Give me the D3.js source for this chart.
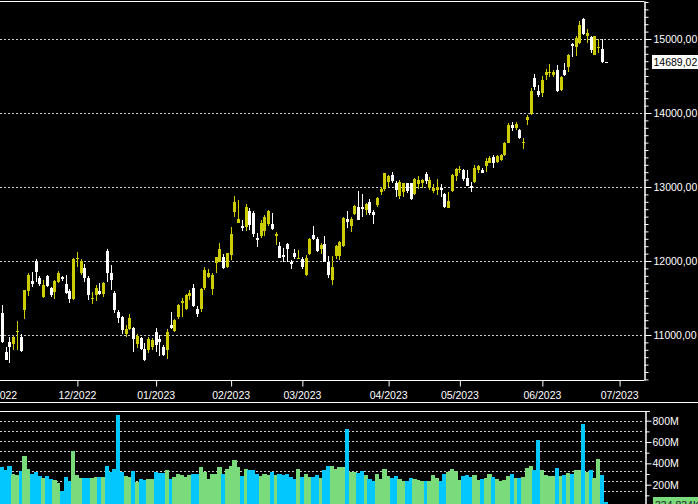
<!DOCTYPE html>
<html><head><meta charset="utf-8">
<script src="https://cdn.jsdelivr.net/npm/d3@7"></script>
<style>html,body{margin:0;padding:0;background:#000;overflow:hidden}</style>
</head><body>
<svg id="c" width="698" height="504"></svg>
<script>
const openP = [
11293,10775,10910,10887,11036,10977,11338,11599,11734,12000,
11775,11518,11797,11630,11586,11721,11779,11689,11599,11486,
12027,11833,11910,11775,11486,11531,11595,11554,12135,11833,
11572,11315,11248,11013,11090,11099,10887,10955,10811,10788,
10833,11045,10946,10842,10797,11135,11058,11248,11437,11351,
11518,11639,11351,11347,11639,11788,11621,11968,11991,12058,
11910,12081,12653,12518,12477,12464,12676,12644,12315,12338,
12405,12509,12500,12338,12203,12081,12230,11991,12104,12027,
12027,11811,12094,12351,12297,12162,12230,11991,11743,12067,
12067,12203,12563,12473,12635,12734,12725,12689,12802,12667,
12757,12923,12968,13072,13162,13058,12878,12923,13049,13049,
12905,13036,13049,13176,12991,12946,12968,12991,12901,12721,
12950,13140,13221,13230,13117,13013,13058,13230,13230,13288,
13329,13401,13333,13365,13432,13599,13838,13800,13770,13595,
13914,13982,14468,14302,14266,14514,14545,14523,14581,14311,
14581,14617,14928,14887,14941,15270,15032,15032,14784,14880,
14865,14689.02];
const highP = [
11405,10842,10977,10986,11189,11009,11608,11842,11856,12027,
11797,11743,11811,11653,11743,11865,11797,11811,11626,12036,
12117,12022,11955,11797,11576,11676,11707,11721,12162,11946,
11595,11338,11261,11135,11284,11112,11013,10968,10887,10977,
10955,11090,11000,10865,11081,11306,11212,11419,11495,11554,
11608,11689,11392,11630,11914,11887,11833,12058,12239,12094,
12112,12455,12878,12824,12554,12770,12721,12676,12374,12554,
12622,12689,12653,12396,12261,12171,12240,12013,12158,12149,
12058,12081,12306,12473,12329,12239,12338,12067,12067,12216,
12275,12590,12676,12590,12757,12946,12905,12779,12838,12689,
12869,12995,13194,13162,13207,13081,13094,13058,13055,13058,
13117,13149,13108,13207,13131,13040,13103,13036,12923,12937,
13176,13252,13284,13239,13230,13072,13297,13297,13252,13387,
13423,13432,13430,13440,13613,13860,13874,13880,13780,13667,
13972,14333,14527,14378,14500,14590,14662,14580,14649,14500,
14680,14797,14941,15040,15243,15279,15135,15041,15041,14996,
14996,14689.02];
const lowP = [
10887,10662,10626,10797,10797,10766,11216,11527,11653,11721,
11662,11504,11653,11518,11486,11707,11734,11550,11437,11473,
11923,11811,11721,11473,11419,11459,11540,11518,11721,11608,
11293,11167,11013,10968,11067,10775,10820,10797,10650,10761,
10797,10775,10721,10716,10676,11076,11040,11212,11239,11338,
11473,11380,11248,11315,11608,11775,11540,11833,11982,11892,
11901,12013,12599,12509,12410,12405,12419,12320,12194,12306,
12338,12473,12420,12216,12035,11991,11991,11892,12022,12022,
11892,11800,12081,12284,12126,12094,11985,11766,11676,12022,
12013,12185,12441,12396,12622,12550,12590,12622,12622,12500,
12734,12892,12950,13004,13049,12869,12838,12860,12923,12824,
12892,12968,12982,13036,12959,12914,12892,12869,12715,12715,
12937,13085,13185,13081,13008,12937,13049,13194,13185,13207,
13320,13252,13320,13350,13420,13590,13761,13770,13650,13514,
13838,13973,14311,14212,14212,14446,14491,14480,14279,14300,
14505,14559,14761,14770,14928,15054,14941,14815,14784,14815,
14680,14689.02];
const closeP = [
10896,10671,10842,10977,11054,10784,11608,11811,11689,11856,
11689,11676,11662,11540,11730,11842,11752,11572,11486,12027,
12045,12000,11775,11540,11504,11630,11550,11707,11833,11734,
11338,11234,11067,11076,11234,10946,10991,10811,10662,10941,
10932,10865,10910,10730,11040,11099,11203,11405,11464,11540,
11563,11392,11284,11617,11878,11842,11811,12049,12162,11910,
12103,12365,12793,12567,12455,12734,12486,12365,12293,12509,
12599,12680,12432,12365,12045,12058,12162,11968,12045,12040,
11923,12045,12297,12293,12140,12216,11991,11811,11923,12203,
12261,12577,12518,12563,12743,12554,12703,12766,12653,12622,
12856,12968,13190,13149,13081,12959,13072,13049,12946,12838,
13103,13094,13094,13081,13094,12991,13004,12968,12721,12811,
13162,13239,13239,13103,13013,12982,13252,13290,13194,13351,
13396,13320,13419,13432,13590,13838,13800,13850,13667,13605,
13950,14297,14342,14252,14446,14559,14555,14559,14302,14491,
14514,14784,14905,15009,15189,15068,15077,14851,15041,14895,
14689.02,14689.02];
const volumeM = [
366,334,372,297,293,325,466,344,303,319,
281,262,281,249,246,215,136,271,234,513,
287,262,262,262,262,268,268,268,372,319,
344,852,319,281,271,325,224,249,240,249,
249,319,309,312,334,249,271,303,287,271,
287,297,297,362,319,249,297,303,362,303,
344,372,428,365,281,344,334,334,297,281,
297,287,319,287,303,287,303,271,249,344,
271,303,271,271,287,262,334,372,372,344,
365,365,720,318,318,309,325,287,249,231,
296,249,344,281,262,278,256,231,231,265,
256,240,231,231,231,287,265,231,296,318,
344,328,240,281,287,271,287,240,256,262,
303,268,249,231,243,278,303,265,265,271,
359,372,334,617,334,287,281,281,356,281,
287,309,296,334,340,767,318,334,265,438,
287,42];
const monthLabels = ["11/2022","12/2022","01/2023","02/2023","03/2023","04/2023","05/2023","06/2023","07/2023"];
const monthStartIndex = [-1,20,41,61,80,103,122,144,164.6];
const priceTicks = [11000,12000,13000,14000,15000];
const volumeTicks = [200,400,600,800];
const volumeGrid = [100,200,300,400,500,600,700,800];
const lastPrice = 14689.02;
const lastVolumeLabel = "334,834K";

const UP = "#cccc00", DOWN = "#ffffff", VUP = "#79db79", VDOWN = "#00c8ff";
const FONT = "'Liberation Sans', Arial, sans-serif";
const svg = d3.select("#c");
svg.append("rect").attr("width",698).attr("height",504).attr("fill","#000");

const n = closeP.length;
const x = d3.scaleLinear().domain([0,160]).range([1.86,601.86]);
const step = x(1)-x(0);
const yBase = d3.scaleLinear().domain([11000,15000]).range([335,39]);
const yP = yBase.copy().domain([yBase.invert(380), yBase.invert(1)]).range([380,1]);
const vBase = d3.scaleLinear().domain([0,800]).range([506,420.7]);
const yV = vBase.copy().domain([vBase.invert(504), vBase.invert(411)]).range([504,411]);
const yG = d3.scaleLinear().domain([0,800]).range([501.5,420.7]);

// price grid
svg.append("g").attr("shape-rendering","crispEdges").selectAll("line").data(priceTicks).join("line")
  .attr("x1",0).attr("x2",643).attr("y1",d=>Math.round(yP(d))+0.5).attr("y2",d=>Math.round(yP(d))+0.5)
  .attr("stroke","#d0d0d0").attr("stroke-dasharray","2,2");

// candles
const cg = svg.append("g").attr("shape-rendering","crispEdges");
const idx = d3.range(n);
cg.selectAll("line").data(idx).join("line")
  .attr("x1",i=>Math.round(x(i))+0.5).attr("x2",i=>Math.round(x(i))+0.5)
  .attr("y1",i=>yP(highP[i])).attr("y2",i=>yP(lowP[i]))
  .attr("stroke",i=>closeP[i]>openP[i]?UP:DOWN).attr("stroke-width",1);
cg.selectAll("rect").data(idx).join("rect")
  .attr("x",i=>Math.round(x(i))-1).attr("width",3)
  .attr("y",i=>Math.round(yP(Math.max(openP[i],closeP[i]))))
  .attr("height",i=>Math.max(1,Math.round(Math.abs(yP(openP[i])-yP(closeP[i])))))
  .attr("fill",i=>closeP[i]>openP[i]?UP:DOWN);

// frame lines
const lines = [[0,1.5,644,1.5],[0,380.5,644,380.5],[0,402.5,698,402.5],[0,411.5,650,411.5]];
svg.append("g").selectAll("line").data(lines).join("line")
  .attr("x1",d=>d[0]).attr("y1",d=>d[1]).attr("x2",d=>d[2]).attr("y2",d=>d[3])
  .attr("stroke","#fff").attr("stroke-width",1);

function styleAxis(g){
  g.selectAll("path").attr("stroke","#fff");
  g.selectAll("line").attr("stroke","#fff");
  g.selectAll("text").attr("fill","#fff").style("font-family",FONT).style("font-size","10.5px");
}
// price axis
const fmtP = d => d3.format(".2f")(d).replace(".",",");
const minorP = d3.range(10400,15600,100).filter(v=>v%1000!==0);
const gPm = svg.append("g").attr("transform","translate(644.5,0)")
  .call(d3.axisRight(yP).tickValues(minorP).tickSize(4).tickSizeOuter(0).tickFormat(""));
styleAxis(gPm);
const gP = svg.append("g").attr("transform","translate(644.5,0)")
  .call(d3.axisRight(yP).tickValues(priceTicks).tickSize(7).tickPadding(2).tickSizeOuter(0).tickFormat(fmtP));
styleAxis(gP);

// last price label
svg.append("rect").attr("x",652).attr("y",55).attr("width",46).attr("height",14).attr("fill","#fff");
svg.append("text").attr("x",653.5).attr("y",yP(lastPrice)+3.8).text(fmtP(lastPrice))
  .attr("fill","#000").style("font-family",FONT).style("font-size","10.5px");

// x axis
const gX = svg.append("g").attr("transform","translate(0,380.5)")
  .call(d3.axisBottom(x).tickValues(monthStartIndex).tickSize(6).tickPadding(5).tickSizeOuter(0)
    .tickFormat((d,i)=>monthLabels[i]));
gX.select(".domain").remove();
styleAxis(gX);
gX.selectAll(".tick line").attr("transform","translate(0.5,0)");

// volume grid
svg.append("g").attr("shape-rendering","crispEdges").selectAll("line").data(volumeGrid).join("line")
  .attr("x1",0).attr("x2",644).attr("y1",d=>Math.round(yG(d))+0.5).attr("y2",d=>Math.round(yG(d))+0.5)
  .attr("stroke","#d0d0d0").attr("stroke-dasharray","2,2");

// volume bars
svg.append("g").attr("shape-rendering","crispEdges").selectAll("rect").data(idx).join("rect")
  .attr("x",i=>x(i)-step/2).attr("width",step+0.3)
  .attr("y",i=>yV(volumeM[i])).attr("height",i=>506-yV(volumeM[i]))
  .attr("fill",i=>closeP[i]>openP[i]?VUP:VDOWN);

// volume axis
const minorV = [100,300,500,700];
const gVm = svg.append("g").attr("transform","translate(645.5,0)")
  .call(d3.axisRight(yV).tickValues(minorV).tickSize(4).tickSizeOuter(0).tickFormat(""));
styleAxis(gVm);
const gV = svg.append("g").attr("transform","translate(645.5,0)")
  .call(d3.axisRight(yV).tickValues(volumeTicks).tickSize(6).tickPadding(1).tickSizeOuter(0).tickFormat(d=>d+"M"));
styleAxis(gV);

// last volume label
svg.append("rect").attr("x",653).attr("y",497).attr("width",45).attr("height",14).attr("fill",VUP);
svg.append("text").attr("x",655).attr("y",508.8).text(lastVolumeLabel)
  .attr("fill","#222").style("font-family",FONT).style("font-size","10.5px");
</script>
</body></html>
